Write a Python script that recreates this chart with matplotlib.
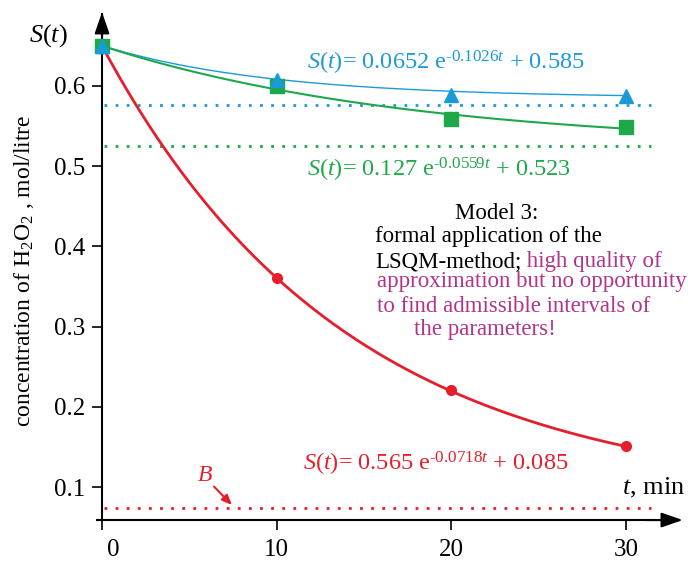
import numpy as np
import matplotlib
matplotlib.use('Agg')
import matplotlib.pyplot as plt
from matplotlib.transforms import ScaledTranslation

plt.rcParams['font.family'] = 'Liberation Serif'
plt.rcParams['mathtext.fontset'] = 'custom'
plt.rcParams['mathtext.rm'] = 'Liberation Serif'
plt.rcParams['mathtext.it'] = 'Liberation Serif:italic'

# observed points (min, mol/litre)
t_obs = [0, 10, 20, 30]
s_blue = [0.650, 0.607, 0.589, 0.587]
s_green = [0.650, 0.600, 0.559, 0.549]
s_red = [0.650, 0.360, 0.221, 0.151]

# model S(t) = a exp(-b t) + c
a_coef = [0.0652, 0.127, 0.565]
b_coef = [0.1026, 0.0559, 0.0718]
c_coef = [0.585, 0.523, 0.085]

# dotted reference levels
lvl_blue = 0.576
lvl_green = 0.525
lvl_B = 0.074

x_ticks = [0, 10, 20, 30]
y_ticks = [0.1, 0.2, 0.3, 0.4, 0.5, 0.6]

BLUE = '#1b9ad8'
GREEN = '#1fa84a'
RED = '#e61e2b'
MAG = '#b2358c'

fig = plt.figure(figsize=(6.88, 5.64), dpi=100)
ax = fig.add_axes([0, 0, 1, 1])
ax.set_xlim(-5.84, 33.54)
ax.set_ylim(0.004, 0.7072)
ax.patch.set_alpha(0)

x0_axis = 0.0588
for s in ['top', 'right']:
    ax.spines[s].set_visible(False)
ax.spines['left'].set_position(('data', 0))
ax.spines['bottom'].set_position(('data', x0_axis))
ax.spines['left'].set_bounds(x0_axis, 0.69)
ax.spines['bottom'].set_bounds(-0.3, 33.0)
ax.spines['left'].set_linewidth(1.5)
ax.spines['bottom'].set_linewidth(1.5)

ax.set_xticks(x_ticks)
ax.set_yticks(y_ticks)
ax.set_xticklabels([str(v) for v in x_ticks])
ax.set_yticklabels(['%.1f' % v for v in y_ticks])
ax.tick_params(axis='both', direction='out', length=7, width=1.2, labelsize=18)
ax.tick_params(axis='x', pad=7)
ax.tick_params(axis='y', pad=5)
lab0 = ax.get_xticklabels()[0]
lab0.set_transform(lab0.get_transform() + ScaledTranslation(0.11, 0, fig.dpi_scale_trans))

# arrow heads
ax.annotate('', xy=(0, 0.6955), xytext=(0, 0.64),
            arrowprops=dict(arrowstyle='-|>,head_length=1.3,head_width=0.45', color='k', lw=1.5))
ax.annotate('', xy=(33.4, x0_axis), xytext=(31, x0_axis),
            arrowprops=dict(arrowstyle='-|>,head_length=1.3,head_width=0.45', color='k', lw=1.5))

# dotted levels
dot = (0, (1, 3))
ax.plot([0.1, 31.4], [lvl_blue, lvl_blue], color=BLUE, lw=2, ls=dot)
ax.plot([0.1, 31.4], [lvl_green, lvl_green], color=GREEN, lw=2, ls=dot)
ax.plot([0.1, 31.4], [lvl_B, lvl_B], color=RED, lw=2, ls=dot)

# model curves
tt = np.linspace(0, 30, 200)
colors = [BLUE, GREEN, RED]
widths = [1.0, 1.5, 2.0]
for a, b, c, col, w in zip(a_coef, b_coef, c_coef, colors, widths):
    ax.plot(tt, a * np.exp(-b * tt) + c, color=col, lw=w, zorder=3)

ax.plot(t_obs, s_red, 'o', color=RED, ms=7, zorder=4)
ax.plot(t_obs, s_green, 's', color=GREEN, ms=10, zorder=4)
ax.plot(t_obs, s_blue, '^', color=BLUE, ms=10, zorder=5)

# equations
fs = 17.5
ax.text(11.73, 0.620, r'$S$($t$)= 0.0652 e$^{\text{-0.1026}\mathit{t}}$ + 0.585', color=BLUE, fontsize=fs, va='baseline')
ax.text(11.73, 0.487, r'$S$($t$)= 0.127 e$^{\text{-0.0559}\mathit{t}}$ + 0.523', color=GREEN, fontsize=fs, va='baseline')
ax.text(11.5, 0.121, r'$S$($t$)= 0.565 e$^{\text{-0.0718}\mathit{t}}$ + 0.085', color=RED, fontsize=fs, va='baseline')

# model note
fn = 16.5
ax.text(22.6, 0.434, 'Model 3:', fontsize=fn, ha='center', va='baseline')
ax.text(15.63, 0.405, 'formal application of the', fontsize=fn, va='baseline')
t1 = ax.text(15.63, 0.374, 'LSQM-method;', fontsize=fn, va='baseline')
ax.annotate(' high quality of', xy=(1, 0), xycoords=t1, va='bottom', ha='left', color=MAG, fontsize=fn)
ax.text(15.75, 0.349, 'approximation but no opportunity', fontsize=fn, va='baseline', color=MAG)
ax.text(15.75, 0.318, 'to find admissible intervals of', fontsize=fn, va='baseline', color=MAG)
ax.text(21.9, 0.290, 'the parameters!', fontsize=fn, ha='center', va='baseline', color=MAG)

# axis labels
ax.text(-3.09, 0.655, r'$S$($t$)', fontsize=19, ha='center', va='baseline')
ax.text(29.77, 0.091, r'$t$, min', fontsize=19, va='baseline')
ax.text(-4.45, 0.37, r'concentration of H$_2$O$_2$ , mol/litre', fontsize=17,
        rotation=90, ha='center', va='center')

# B marker
ax.text(5.9, 0.1075, r'$B$', fontsize=17, color=RED, ha='center', va='baseline')
ax.annotate('', xy=(7.55, 0.075), xytext=(6.3, 0.103),
            arrowprops=dict(arrowstyle='-|>,head_length=0.6,head_width=0.25', color=RED, lw=1.5))

fig.savefig('out.png', dpi=100)
